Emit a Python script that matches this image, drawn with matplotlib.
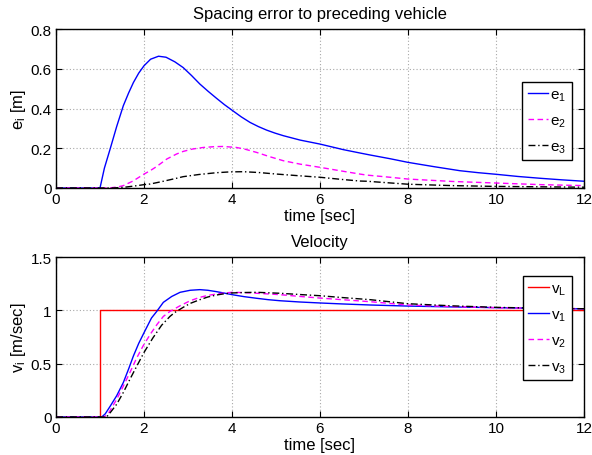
import numpy as np
import matplotlib
matplotlib.use("Agg")
import matplotlib.pyplot as plt

plt.rcParams['font.family'] = ['Liberation Sans', 'DejaVu Sans']
plt.rcParams['mathtext.fontset'] = 'custom'
plt.rcParams['mathtext.rm'] = 'Liberation Sans'
plt.rcParams['mathtext.it'] = 'Liberation Sans'

# spacing errors e_i(t)
t_e1 = [0, 1.0, 1.1, 1.23, 1.38, 1.53, 1.65, 1.76, 1.88, 2.0, 2.15, 2.33, 2.5, 2.7, 2.89, 3.08,
        3.27, 3.46, 3.65, 3.83, 4.01, 4.21, 4.41, 4.6, 4.79, 4.98, 5.17, 5.36, 5.55, 6.0, 6.53,
        6.91, 7.14, 7.6, 8.0, 8.6, 9.18, 9.6, 10.0, 10.5, 11.0, 11.5, 12.0]
e1 = [0, 0, 0.10, 0.196, 0.31, 0.414, 0.478, 0.531, 0.578, 0.615, 0.648, 0.663, 0.658, 0.635,
      0.606, 0.566, 0.523, 0.486, 0.451, 0.419, 0.39, 0.358, 0.33, 0.309, 0.291, 0.276, 0.263,
      0.252, 0.241, 0.221, 0.193, 0.176, 0.166, 0.147, 0.129, 0.107, 0.087, 0.077, 0.069, 0.058,
      0.049, 0.041, 0.034]

t_e2 = [0, 1.2, 1.4, 1.53, 1.75, 2.0, 2.14, 2.28, 2.52, 2.74, 2.89, 3.1, 3.35, 3.6, 3.8, 4.1,
        4.3, 4.56, 4.85, 5.17, 5.55, 6.0, 6.53, 6.91, 7.06, 7.5, 8.0, 9.0, 10.0, 11.0, 12.0]
e2 = [0, 0, 0.005, 0.012, 0.035, 0.07, 0.087, 0.107, 0.146, 0.171, 0.184, 0.196, 0.204, 0.208,
      0.209, 0.204, 0.195, 0.179, 0.158, 0.137, 0.12, 0.104, 0.084, 0.07, 0.065, 0.056, 0.045,
      0.033, 0.025, 0.017, 0.012]

t_e3 = [0, 1.3, 1.6, 1.85, 2.0, 2.14, 2.4, 2.74, 2.89, 3.25, 3.65, 3.95, 4.26, 4.6, 5.02, 5.5,
        6.0, 6.5, 6.91, 7.06, 7.5, 8.0, 9.0, 10.0, 11.0, 12.0]
e3 = [0, 0, 0.005, 0.012, 0.017, 0.02, 0.032, 0.049, 0.057, 0.068, 0.077, 0.081, 0.082, 0.078,
      0.07, 0.062, 0.054, 0.043, 0.035, 0.034, 0.027, 0.019, 0.012, 0.008, 0.006, 0.004]

# velocities v_i(t)
t_vL = [0, 1.0, 1.0, 12.0]
vL = [0, 0, 1.0, 1.0]

t_v1 = [0, 1.04, 1.12, 1.23, 1.38, 1.53, 1.65, 1.76, 1.88, 2.0, 2.17, 2.28, 2.44, 2.63, 2.82,
        3.05, 3.27, 3.45, 3.65, 3.82, 4.0, 4.28, 4.56, 4.82, 5.09, 5.55, 6.0, 6.5, 7.14, 8.0,
        9.0, 10.0, 11.0, 12.0]
v1 = [0, 0, 0.03, 0.10, 0.20, 0.323, 0.45, 0.573, 0.69, 0.79, 0.928, 0.985, 1.075, 1.13, 1.169,
      1.188, 1.194, 1.188, 1.175, 1.162, 1.147, 1.128, 1.113, 1.1, 1.09, 1.078, 1.069, 1.06,
      1.05, 1.04, 1.032, 1.025, 1.019, 1.014]

t_v2 = [0, 1.1, 1.2, 1.38, 1.53, 1.68, 1.83, 1.98, 2.15, 2.3, 2.44, 2.59, 2.82, 3.05, 3.27,
        3.45, 3.65, 3.82, 4.0, 4.28, 4.56, 5.09, 5.55, 6.0, 6.5, 7.14, 8.0, 9.0, 10.0, 11.0, 12.0]
v2 = [0, 0, 0.04, 0.166, 0.29, 0.417, 0.55, 0.667, 0.78, 0.87, 0.943, 0.99, 1.043, 1.09, 1.122,
      1.14, 1.153, 1.162, 1.169, 1.166, 1.16, 1.147, 1.13, 1.115, 1.1, 1.081, 1.05, 1.035,
      1.025, 1.019, 1.015]

t_v3 = [0, 1.15, 1.25, 1.38, 1.53, 1.68, 1.84, 2.0, 2.2, 2.4, 2.59, 2.7, 2.89, 3.05, 3.27, 3.45,
        3.65, 3.82, 4.0, 4.28, 4.56, 5.09, 5.55, 6.0, 6.5, 7.14, 8.0, 9.0, 10.0, 11.0, 12.0]
v3 = [0, 0, 0.05, 0.12, 0.23, 0.354, 0.48, 0.605, 0.74, 0.86, 0.943, 0.98, 1.028, 1.065, 1.10,
      1.125, 1.144, 1.155, 1.163, 1.167, 1.169, 1.16, 1.148, 1.137, 1.12, 1.10, 1.062, 1.042,
      1.028, 1.02, 1.015]

xticks = [0, 2, 4, 6, 8, 10, 12]


def style_axes(ax, ylim, yticks, ylabels):
    ax.set_xlim(0, 12)
    ax.set_ylim(*ylim)
    ax.set_xticks(xticks)
    ax.set_yticks(yticks)
    ax.set_yticklabels(ylabels)
    ax.grid(True, linestyle=(0, (1, 2)), color='#a8a8a8', linewidth=0.8)
    ax.tick_params(direction='in', top=True, right=True, length=4, labelsize=11, pad=3)
    for s in ax.spines.values():
        s.set_linewidth(1.0)


def add_legend(ax, top):
    leg = ax.legend(loc='upper right', bbox_to_anchor=(0.977, top), fontsize=11,
                    handlelength=1.35, handletextpad=0.15, borderpad=0.35, labelspacing=0.7,
                    fancybox=False, framealpha=1, borderaxespad=0)
    leg.get_frame().set_edgecolor('k')
    leg.get_frame().set_linewidth(1.0)


fig = plt.figure(figsize=(5.92, 4.56), dpi=100)
ax1 = fig.add_axes([56 / 592, 1 - 189 / 456, 528 / 592, 159 / 456])
ax2 = fig.add_axes([56 / 592, 1 - 418 / 456, 528 / 592, 160 / 456])

ax1.plot(t_e1, e1, color='#0000ff', lw=1.0, label='e$_1$')
ax1.plot(t_e2, e2, color='#ff00ff', lw=1.0, ls=(0, (4, 2.5)), label='e$_2$')
ax1.plot(t_e3, e3, color='k', lw=1.0, ls=(0, (5, 2, 1, 2)), label='e$_3$')
style_axes(ax1, (0, 0.8), [0, 0.2, 0.4, 0.6, 0.8], ['0', '0.2', '0.4', '0.6', '0.8'])
ax1.set_title('Spacing error to preceding vehicle', fontsize=12, pad=8)
ax1.set_xlabel('time [sec]', fontsize=12, labelpad=1)
ax1.set_ylabel('e$_\\mathregular{i}$ [m]', fontsize=12, labelpad=2)
add_legend(ax1, (189 - 83) / 159)

ax2.plot(t_vL, vL, color='#ff0000', lw=1.0, label='v$_L$')
ax2.plot(t_v1, v1, color='#0000ff', lw=1.0, label='v$_1$')
ax2.plot(t_v2, v2, color='#ff00ff', lw=1.0, ls=(0, (4, 2.5)), label='v$_2$')
ax2.plot(t_v3, v3, color='k', lw=1.0, ls=(0, (5, 2, 1, 2)), label='v$_3$')
style_axes(ax2, (0, 1.5), [0, 0.5, 1, 1.5], ['0', '0.5', '1', '1.5'])
ax2.set_title('Velocity', fontsize=12, pad=8)
ax2.set_xlabel('time [sec]', fontsize=12, labelpad=1)
ax2.set_ylabel('v$_\\mathregular{i}$ [m/sec]', fontsize=12, labelpad=2)
add_legend(ax2, (418 - 277) / 160)

fig.savefig('out.png', dpi=100)
